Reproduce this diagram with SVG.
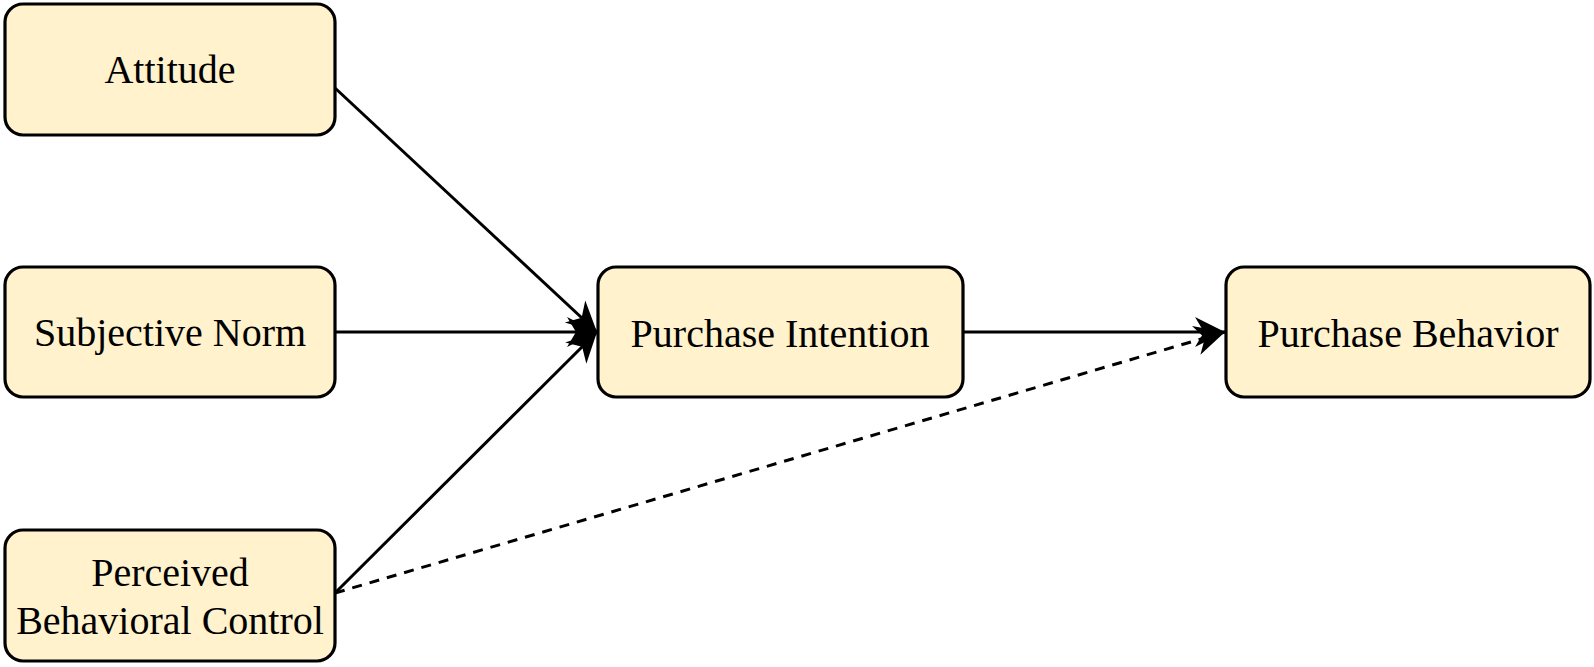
<svg xmlns="http://www.w3.org/2000/svg" width="1594" height="667" viewBox="0 0 1594 667">
<style>
.box{fill:#FFF2CC;stroke:#000;stroke-width:3.2}
.lbl{font-family:"Liberation Serif","Times New Roman",serif;font-size:40px;fill:#000;text-anchor:middle}
.edge{fill:none;stroke:#000;stroke-width:3}
.dash{stroke-dasharray:10 8}
</style>
<defs>
<marker id="arr" markerUnits="userSpaceOnUse" markerWidth="32" markerHeight="32" viewBox="0 0 32 32" refX="30" refY="16" orient="auto">
<path d="M0,1 L30,16 L0,31 L9,16 Z" fill="#000"/>
</marker>
</defs>
<rect width="1594" height="667" fill="#fff"/>
<g id="connectors">
<line class="edge" x1="335" y1="88" x2="597" y2="332" marker-end="url(#arr)"/>
<line class="edge" x1="335" y1="332" x2="597" y2="332" marker-end="url(#arr)"/>
<line class="edge" x1="335" y1="593" x2="597" y2="332" marker-end="url(#arr)"/>
<line class="edge" x1="963" y1="332" x2="1225" y2="332" marker-end="url(#arr)"/>
<line class="edge dash" x1="335" y1="593" x2="1225" y2="332" marker-end="url(#arr)"/>
</g>
<g id="attitude">
<rect class="box" x="5" y="4" width="330" height="131" rx="18"/>
<text class="lbl" x="170" y="83">Attitude</text>
</g>
<g id="subjective-norm">
<rect class="box" x="5" y="267" width="330" height="130" rx="18"/>
<text class="lbl" x="170" y="346">Subjective Norm</text>
</g>
<g id="perceived-behavioral-control">
<rect class="box" x="5" y="530" width="330" height="131" rx="18"/>
<text class="lbl" x="170" y="586">Perceived</text>
<text class="lbl" x="170" y="634">Behavioral Control</text>
</g>
<g id="purchase-intention">
<rect class="box" x="598" y="267" width="365" height="130" rx="18"/>
<text class="lbl" x="780" y="347">Purchase Intention</text>
</g>
<g id="purchase-behavior">
<rect class="box" x="1226" y="267" width="364" height="130" rx="18"/>
<text class="lbl" x="1408" y="347">Purchase Behavior</text>
</g>
</svg>
